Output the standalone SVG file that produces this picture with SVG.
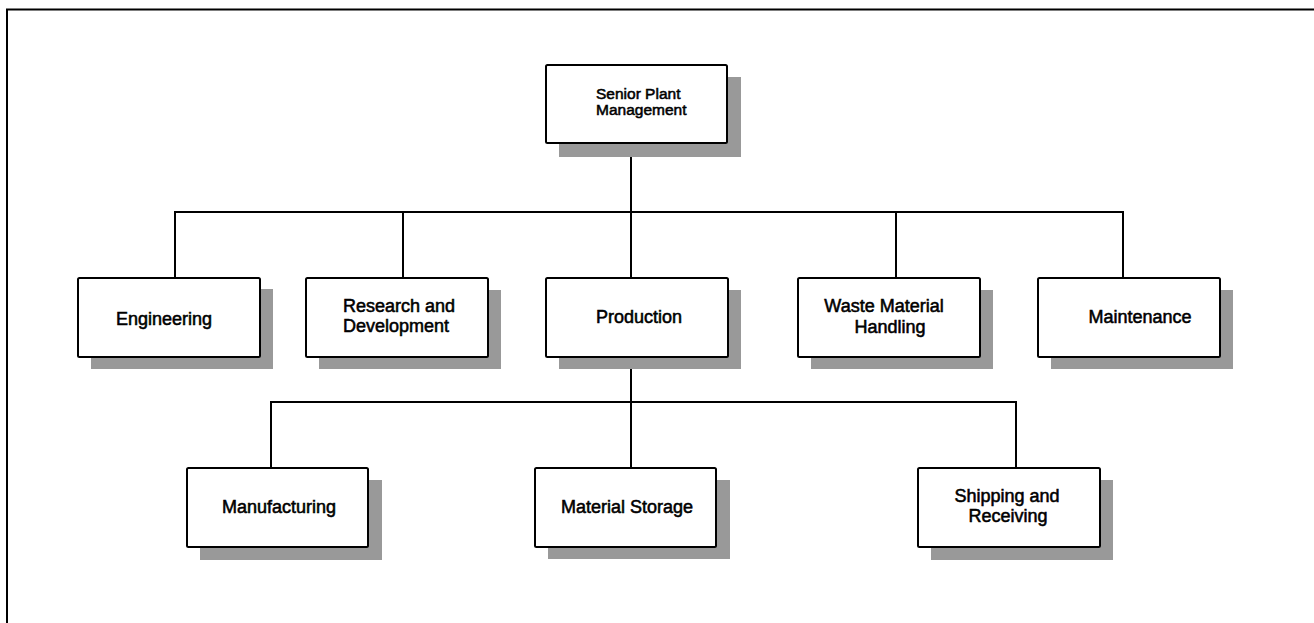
<svg xmlns="http://www.w3.org/2000/svg" width="1314" height="623" viewBox="0 0 1314 623">
<style>
.shadow{fill:#999999;stroke:none}
.box{fill:#ffffff;stroke:#000000;stroke-width:2}
.lbl{font-family:"Liberation Sans",Arial,sans-serif;font-size:18px;fill:#000000;stroke:#000000;stroke-width:0.55px}
.sm{font-size:15.5px}
.conn{fill:none;stroke:#000000;stroke-width:2}
</style>
<rect width="1314" height="623" fill="#ffffff"/>
<path d="M7,623 V9.5 H1314" fill="none" stroke="#000000" stroke-width="2"/>
<g id="connectors">
<path class="conn" d="M631,143 V278"/>
<path class="conn" d="M175,278 V212 H1123 V278"/>
<path class="conn" d="M403,212 V278"/>
<path class="conn" d="M896,212 V278"/>
<path class="conn" d="M631,357 V468"/>
<path class="conn" d="M271,468 V402 H1016 V468"/>
</g>
<g id="senior">
<rect class="shadow" x="559" y="77" width="182" height="80"/>
<rect class="box" x="546" y="65" width="181" height="78" rx="1.5"/>
<text class="lbl sm" x="596" y="99">Senior Plant</text>
<text class="lbl sm" x="596" y="115">Management</text>
</g>
<g id="engineering">
<rect class="shadow" x="91" y="289" width="182" height="80"/>
<rect class="box" x="78" y="278" width="182" height="79" rx="1.5"/>
<text class="lbl" x="164" y="325" text-anchor="middle">Engineering</text>
</g>
<g id="research">
<rect class="shadow" x="319" y="290" width="182" height="79"/>
<rect class="box" x="306" y="278" width="182" height="79" rx="1.5"/>
<text class="lbl" x="343" y="312">Research and</text>
<text class="lbl" x="343" y="332">Development</text>
</g>
<g id="production">
<rect class="shadow" x="559" y="290" width="182" height="79"/>
<rect class="box" x="546" y="278" width="182" height="79" rx="1.5"/>
<text class="lbl" x="639" y="323" text-anchor="middle">Production</text>
</g>
<g id="waste">
<rect class="shadow" x="811" y="290" width="182" height="79"/>
<rect class="box" x="798" y="278" width="182" height="79" rx="1.5"/>
<text class="lbl" x="884" y="312" text-anchor="middle">Waste Material</text>
<text class="lbl" x="890" y="333" text-anchor="middle">Handling</text>
</g>
<g id="maintenance">
<rect class="shadow" x="1051" y="290" width="182" height="79"/>
<rect class="box" x="1038" y="278" width="182" height="79" rx="1.5"/>
<text class="lbl" x="1140" y="323" text-anchor="middle">Maintenance</text>
</g>
<g id="manufacturing">
<rect class="shadow" x="200" y="480" width="182" height="80"/>
<rect class="box" x="187" y="468" width="181" height="79" rx="1.5"/>
<text class="lbl" x="279" y="513" text-anchor="middle">Manufacturing</text>
</g>
<g id="storage">
<rect class="shadow" x="548" y="480" width="182" height="79"/>
<rect class="box" x="535" y="468" width="181" height="79" rx="1.5"/>
<text class="lbl" x="627" y="513" text-anchor="middle">Material Storage</text>
</g>
<g id="shipping">
<rect class="shadow" x="931" y="480" width="182" height="80"/>
<rect class="box" x="918" y="468" width="182" height="79" rx="1.5"/>
<text class="lbl" x="1007" y="502" text-anchor="middle">Shipping and</text>
<text class="lbl" x="1008" y="522" text-anchor="middle">Receiving</text>
</g>
</svg>
